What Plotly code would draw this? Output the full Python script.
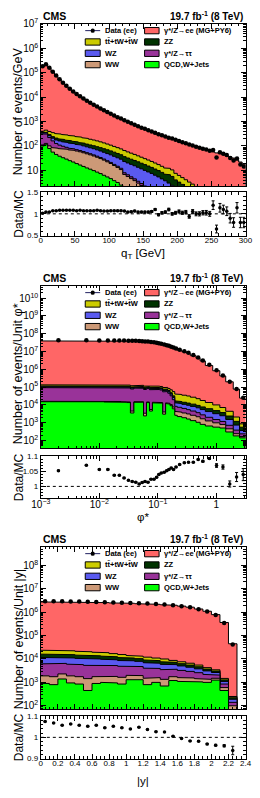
import plotly.graph_objects as go

W, H = 260, 798
FONT = "Liberation Sans"

# ---------------- panel 1 : q_T ----------------
qt_edges = list(range(0, 305, 5))
qt_data = [182000, 219000, 158000, 110000, 75900, 53700, 38900, 28800, 21900, 17000,
           13500, 10700, 8710, 7080, 5890, 4900, 4070, 3390, 2880, 2450,
           2090, 1780, 1510, 1320, 1120, 977, 851, 741, 646, 562,
           501, 437, 389, 347, 302, 275, 245, 219, 200, 178,
           158, 141, 129, 115, 105, 93.3, 85.1, 75.9, 70.8, 63.1,
           68.4, 33.8, 54.7, 48.4, 42.4, 32.4, 25.6, 30.8, 17.6, 14.4]
qt_ratio = [1.015, 1.04, 1.04, 1.07, 1.07, 1.08, 1.08, 1.08, 1.08, 1.08,
            1.07, 1.08, 1.07, 1.07, 1.07, 1.07, 1.08, 1.07, 1.065, 1.065,
            1.07, 1.07, 1.07, 1.07, 1.065, 1.04, 1.05, 1.065, 1.04, 1.04,
            1.04, 1.04, 1.055, 1.10, 0.98, 1.025, 1.04, 1.10, 1.00, 1.025,
            1.055, 1.025, 1.04, 0.94, 1.055, 1.00, 1.00, 1.025, 1.025, 1.00,
            1.20, 0.65, 1.14, 1.10, 1.06, 0.90, 0.80, 1.14, 0.80, 0.80]
qt_ratio_err = [0.004, 0.004, 0.004, 0.004, 0.004, 0.005, 0.005, 0.005, 0.005, 0.005,
                0.006, 0.006, 0.007, 0.007, 0.008, 0.008, 0.009, 0.009, 0.01, 0.01,
                0.011, 0.012, 0.012, 0.013, 0.014, 0.015, 0.016, 0.017, 0.018, 0.019,
                0.02, 0.021, 0.022, 0.024, 0.025, 0.027, 0.028, 0.03, 0.031, 0.033,
                0.035, 0.037, 0.039, 0.041, 0.043, 0.045, 0.048, 0.05, 0.053, 0.056,
                0.1, 0.09, 0.1, 0.1, 0.1, 0.11, 0.11, 0.12, 0.12, 0.12]
qt_qcd = [100, 112, 79, 56, 45, 38, 33, 29, 25, 22,
          19, 16.6, 14.5, 12.6, 11.2, 9.8, 8.5, 7.4, 6.3, 5.4,
          4.6, 3.8, 3.2, 2.5, 0, 0, 0, 0, 0, 0,
          0, 0, 0, 0, 0, 0, 0, 0, 0, 0,
          0, 0, 0, 0, 0, 0, 0, 0, 0, 0,
          0, 0, 0, 0, 0, 0, 0, 0, 0, 0]
qt_ww = [10, 15, 22, 30, 36, 40, 43, 44, 44, 44,
         43, 41, 38, 35, 32, 29, 26, 23, 20, 17,
         14.5, 12, 10, 8.3, 6.8, 5.6, 4.6, 3.8, 3.0, 2.4,
         1.9, 1.5, 1.2, 0.9, 0.7, 0.5, 0.4, 0.3, 0.25, 0.2,
         0.15, 0.12, 0.1, 0.08, 0.06, 0.05, 0.04, 0.03, 0.02, 0.02,
         0.01, 0.01, 0.01, 0.01, 0.01, 0.01, 0.01, 0.01, 0.01, 0.01]
qt_tautau = [200, 180, 120, 75, 45, 30, 21, 15, 12, 10,
             8.5, 7.3, 6.3, 5.5, 4.8, 4.2, 3.7, 3.2, 2.8, 2.4,
             2.1, 1.8, 1.6, 1.4, 1.2, 1.0, 0.85, 0.7, 0.6, 0.5,
             0.4, 0.35, 0.3, 0.25, 0.2, 0.18, 0.15, 0.12, 0.1, 0.08,
             0.06, 0.05, 0.04, 0.04, 0.03, 0.03, 0.02, 0.02, 0.02, 0.02,
             0.01, 0.01, 0.01, 0.01, 0.01, 0.01, 0.01, 0.01, 0.01, 0.01]
qt_wz = [25, 35, 42, 47, 50, 52, 52, 51, 50, 48,
         46, 44, 42, 39, 36, 34, 31, 28.5, 26, 24,
         22, 20, 18, 16.5, 15, 13.5, 12.2, 11, 9.8, 8.7,
         7.7, 6.8, 6.0, 5.2, 4.5, 3.8, 3.2, 2.6, 2.1, 1.7,
         1.4, 1.1, 0.9, 0.7, 0.6, 0.5, 0.4, 0.35, 0.3, 0.25,
         0.2, 0.18, 0.15, 0.12, 0.1, 0.08, 0.07, 0.06, 0.05, 0.04]
qt_zz = [15, 22, 28, 32, 34, 35, 35, 34, 33, 32,
         30, 29, 28, 27, 26, 25, 24, 23, 22, 21,
         19.5, 18, 16.5, 15, 13.5, 12, 11, 10, 9, 8,
         7.2, 6.4, 5.7, 5.0, 4.4, 3.8, 3.3, 3.6, 3.2, 2.1,
         1.7, 1.4, 1.1, 0.9, 0.75, 0.6, 0.5, 0.4, 0.35, 0.3,
         0.25, 0.2, 0.18, 0.15, 0.12, 0.1, 0.08, 0.07, 0.06, 0.05]
qt_ttbar = [50, 80, 100, 110, 112, 112, 110, 107, 104, 100,
            96, 92, 88, 83, 78, 73, 68, 62, 56, 50,
            45, 40, 36, 32, 28.5, 25, 22, 19.5, 17, 15,
            13, 11.5, 10, 8.7, 7.5, 6.4, 5.5, 5.5, 4.8, 3.5,
            2.9, 2.4, 2.0, 1.6, 1.3, 1.0, 0.8, 0.6, 0.5, 0.4,
            0.35, 0.3, 0.25, 0.2, 0.18, 0.15, 0.12, 0.1, 0.08, 0.07]

# ---------------- panel 2 : phi* ----------------
phi_edges = [0, 0.004, 0.008, 0.012, 0.016, 0.020, 0.024, 0.029, 0.034, 0.039,
             0.045, 0.051, 0.057, 0.064, 0.072, 0.081, 0.091, 0.100, 0.108, 0.121,
             0.136, 0.148, 0.162, 0.177, 0.195, 0.215, 0.258, 0.31, 0.36, 0.45,
             0.53, 0.65, 0.87, 1.15, 1.45, 1.95, 2.5, 3.277]
phi_data = [4.27e7, 4.25e7, 4.22e7, 4.2e7, 4.17e7, 4.15e7, 4.12e7, 4.09e7, 4.05e7, 4.0e7,
            3.89e7, 3.8e7, 3.72e7, 3.63e7, 3.47e7, 3.31e7, 3.16e7, 2.95e7, 2.75e7, 2.51e7,
            2.29e7, 2.09e7, 1.86e7, 1.66e7, 1.48e7, 1.26e7, 1.05e7, 8.5e6, 6.3e6, 4.57e6,
            3.16e6, 1.78e6, 8.9e5, 4.47e5, 2.0e5, 7.9e4, 2.5e4]
phi_ratio = [1.052, 1.07, 1.056, 1.056, 1.037, 1.037, 1.028, 1.02, 1.016, 1.014,
             1.008, 1.013, 1.016, 1.014, 1.024, 1.024, 1.03, 1.039, 1.044, 1.047,
             1.052, 1.056, 1.061, 1.056, 1.064, 1.072, 1.078, 1.08, 1.08, 1.089,
             1.083, 1.092, 1.069, 1.064, 1.008, 1.031, 1.039]
phi_ratio_err = [0.002, 0.002, 0.002, 0.002, 0.002, 0.002, 0.002, 0.002, 0.002, 0.002,
                 0.002, 0.002, 0.002, 0.002, 0.002, 0.002, 0.002, 0.002, 0.002, 0.002,
                 0.002, 0.002, 0.002, 0.002, 0.002, 0.002, 0.002, 0.002, 0.002, 0.002,
                 0.003, 0.003, 0.006, 0.007, 0.01, 0.015, 0.02]
phi_qcd = [1.5e4, 1.6e4, 1.5e4, 1.45e4, 1.5e4, 1.45e4, 1.4e4, 1.35e4, 3.5e3, 1.4e4,
           1.35e4, 1.4e4, 2.4e3, 1.35e4, 4.5e3, 1.3e4, 1.35e4, 1.3e4, 1.25e4, 3.0e3,
           1.2e4, 1.1e4, 9.0e3, 6.0e3, 2600, 2200, 1900, 1600, 1300, 1050,
           800, 650, 560, 500, 300, 180, 140]
phi_ww = [1000, 1000, 1000, 1000, 1000, 1000, 1000, 1000, 1000, 1000,
          1000, 1000, 1000, 1000, 1000, 1000, 1000, 1000, 1000, 1000,
          1000, 1200, 1400, 1600, 1700, 1700, 1600, 1500, 1300, 1100,
          850, 600, 420, 280, 150, 60, 25]
phi_tautau = [8.0e4, 8.0e4, 7.9e4, 7.8e4, 7.8e4, 7.7e4, 7.6e4, 7.5e4, 7.4e4, 7.3e4,
              7.2e4, 7.1e4, 7.0e4, 6.8e4, 6.6e4, 6.4e4, 6.2e4, 5.9e4, 5.5e4, 5.0e4,
              4.3e4, 3.3e4, 2.2e4, 1.2e4, 4000, 3400, 2800, 2300, 1900, 1500,
              1100, 750, 520, 390, 260, 140, 70]
phi_wz = [1.0e4, 1.0e4, 1.0e4, 1.0e4, 1.0e4, 1.0e4, 1.0e4, 1.0e4, 1.0e4, 1.0e4,
          1.0e4, 1.0e4, 1.0e4, 1.0e4, 1.0e4, 1.0e4, 1.0e4, 1.0e4, 1.0e4, 1.0e4,
          1.0e4, 9000, 8000, 6500, 4800, 4600, 4400, 4100, 3700, 3200,
          2700, 2200, 1700, 1280, 800, 350, 130]
phi_zz = [1.2e4, 1.2e4, 1.2e4, 1.2e4, 1.2e4, 1.2e4, 1.2e4, 1.2e4, 1.2e4, 1.2e4,
          1.2e4, 1.2e4, 1.2e4, 1.2e4, 1.2e4, 1.2e4, 1.2e4, 1.2e4, 1.2e4, 1.2e4,
          1.2e4, 1.0e4, 8000, 6000, 3600, 3500, 3300, 3100, 2800, 2500,
          2200, 1900, 1550, 1250, 850, 450, 190]
phi_ttbar = [1.8e4, 1.8e4, 1.8e4, 1.8e4, 1.8e4, 1.8e4, 1.8e4, 1.8e4, 1.8e4, 1.8e4,
             1.8e4, 1.8e4, 1.8e4, 1.8e4, 1.8e4, 1.8e4, 1.8e4, 1.8e4, 1.8e4, 1.8e4,
             1.8e4, 2.0e4, 2.2e4, 2.4e4, 2.4e4, 2.3e4, 2.1e4, 1.9e4, 1.6e4, 1.3e4,
             1.0e4, 7500, 5200, 3400, 2000, 900, 300]

# ---------------- panel 3 : |y| ----------------
rap_edges = [0, 0.1, 0.2, 0.3, 0.4, 0.5, 0.6, 0.7, 0.8, 0.9, 1.0, 1.1, 1.2,
             1.3, 1.4, 1.5, 1.6, 1.7, 1.8, 1.9, 2.0, 2.1, 2.2, 2.3, 2.4]
rap_data = [2.95e6, 2.95e6, 2.92e6, 2.88e6, 2.85e6, 2.82e6, 2.75e6, 2.69e6, 2.63e6, 2.57e6,
            2.51e6, 2.43e6, 2.34e6, 2.24e6, 2.14e6, 2.0e6, 1.82e6, 1.62e6, 1.35e6, 1.07e6,
            7.6e5, 3.5e5, 4.2e4]
rap_ratio = [1.075, 1.068, 1.057, 1.063, 1.057, 1.052, 1.057, 1.045, 1.052, 1.045,
             1.04, 1.048, 1.037, 1.027, 1.025, 1.005, 0.995, 0.983, 0.982, 0.968,
             0.963, 0.96, 0.938]
rap_ratio_err = [0.002, 0.002, 0.002, 0.002, 0.002, 0.002, 0.002, 0.002, 0.002, 0.002,
                 0.002, 0.002, 0.002, 0.002, 0.002, 0.002, 0.002, 0.002, 0.003, 0.003,
                 0.004, 0.005, 0.02]
rap_qcd = [900, 800, 1400, 950, 850, 450, 900, 1000, 950, 850, 1300, 1300,
           800, 1000, 700, 1200, 1100, 1100, 1050, 1000, 1250, 450, 60, 0]
rap_ww = [1000, 950, 900, 950, 900, 1000, 850, 800, 850, 800, 700, 650,
          700, 600, 650, 550, 500, 450, 400, 350, 250, 150, 40, 0]
rap_tautau = [4300, 4300, 4200, 4100, 4000, 3900, 3800, 3650, 3450, 3250, 3000, 2800,
              2550, 2350, 2150, 1900, 1650, 1400, 1150, 850, 550, 250, 40, 0]
rap_wz = [5400, 5300, 5200, 5100, 4900, 4700, 4500, 4300, 4000, 3700, 3400, 3200,
          2900, 2650, 2400, 2100, 1800, 1500, 1200, 900, 600, 250, 50, 0]
rap_zz = [4500, 4400, 4300, 4200, 4000, 3800, 3650, 3500, 3200, 2900, 2600, 2400,
          2150, 1900, 1700, 1450, 1250, 1050, 850, 600, 400, 180, 30, 0]
rap_ttbar = [7600, 7650, 6900, 7100, 6750, 6550, 5800, 5350, 4550, 4000, 3100, 2850,
             2900, 2500, 2400, 1500, 1300, 1100, 850, 570, 400, 200, 30, 0]

# ---------------- legend ----------------
legend_labels = ["Data (ee)", "γ*/Z→ee (MG+PY6)", "tt\u0304+tW+t\u0304W", "ZZ",
                 "WZ", "γ*/Z→ττ", "WW", "QCD,W+Jets"]
legend_keys = ["data", "ee", "ttbar", "zz", "wz", "tautau", "ww", "qcd"]

STACK_ORDER = ["qcd", "ww", "tautau", "wz", "zz", "ttbar", "ee"]
COLORS = {"qcd": "#00ff00", "ww": "#cc9977", "tautau": "#993399", "wz": "#5a5af0",
          "zz": "#003300", "ttbar": "#cccc00", "ee": "#ff6666"}


def vx(x):
    return x / W


def vy(y):
    return 1 - y / H


def step_poly(edges, vals, floor):
    xs, ys = [], []
    for i, v in enumerate(vals):
        v = max(v, floor)
        xs += [edges[i], edges[i + 1]]
        ys += [v, v]
    xs += [edges[-1], edges[0]]
    ys += [floor, floor]
    return xs, ys


panels = [
    dict(edges=qt_edges, bkg=[qt_qcd, qt_ww, qt_tautau, qt_wz, qt_zz, qt_ttbar],
         data=qt_data, ratio=qt_ratio, err=qt_ratio_err, yrange=[0.35, 7.002],
         rrange=[0.5, 1.5], rticks=[0.5, 1, 1.5], rminor=0.1, xlog=False,
         xrange=[0, 300], xdtick=50, xminor=10, top=17, bot=182, rtop=188, rbot=232,
         ytitle="Number of events/GeV", ytitle_y=106, xtitle="q<sub>T</sub> [GeV]",
         xtitle_y=251),
    dict(edges=phi_edges, bkg=[phi_qcd, phi_ww, phi_tautau, phi_wz, phi_zz, phi_ttbar],
         data=phi_data, ratio=phi_ratio, err=phi_ratio_err, yrange=[1.56, 10.7],
         rrange=[0.96, 1.1], rticks=[1, 1.05, 1.1], rminor=0.01, xlog=True,
         xrange=[-3, 0.5], xdtick=1, xminor="D1", top=283, bot=448, rtop=456, rbot=499,
         ytitle="Number of events/Unit φ*", ytitle_y=372, xtitle="φ*", xtitle_y=518),
    dict(edges=rap_edges, bkg=[rap_qcd, rap_ww, rap_tautau, rap_wz, rap_zz, rap_ttbar],
         data=rap_data, ratio=rap_ratio, err=rap_ratio_err, yrange=[1.85, 8.8],
         rrange=[0.9, 1.1], rticks=[0.9, 1, 1.1], rminor=0.02, xlog=False,
         xrange=[0, 2.4], xdtick=0.2, xminor=0.05, top=548, bot=713, rtop=720, rbot=763,
         ytitle="Number of events/Unit |y|", ytitle_y=641, xtitle="|y|", xtitle_y=786),
]

fig = go.Figure()
layout = {}
annotations = []
shapes = []

tickfont = dict(family=FONT, size=8, color="black")
common = dict(showline=True, linecolor="black", linewidth=1, mirror="ticks",
              ticks="inside", tickcolor="black", tickwidth=1, showgrid=False,
              zeroline=False, tickfont=tickfont)

X0, X1 = 33, 252

for p, P in enumerate(panels):
    m, r = 2 * p + 1, 2 * p + 2
    xm = "x" if m == 1 else f"x{m}"
    ym = "y" if m == 1 else f"y{m}"
    xr, yr = f"x{r}", f"y{r}"
    edges = P["edges"]
    nb = len(edges) - 1
    centers = [(edges[i] + edges[i + 1]) / 2 for i in range(nb)]
    data, ratio = P["data"], P["ratio"]
    nd = len(data)
    bsum = [sum(b[i] for b in P["bkg"]) for i in range(nb)]
    ee = [max(data[i] / ratio[i] - bsum[i], 0) if i < nd else 0 for i in range(nb)]
    comps = P["bkg"] + [ee]
    cum = []
    run = [0] * nb
    for c in comps:
        run = [run[i] + c[i] for i in range(nb)]
        cum.append(run)
    e = list(edges)
    if P["xlog"] and e[0] <= 0:
        e[0] = e[1] / 40
    floor = 10 ** (P["yrange"][0] - 1)
    for k in range(len(comps) - 1, -1, -1):
        xs, ys = step_poly(e, cum[k], floor)
        fig.add_trace(go.Scatter(x=xs, y=ys, xaxis=xm, yaxis=ym, mode="lines",
                                 fill="toself", fillcolor=COLORS[STACK_ORDER[k]],
                                 line=dict(color="black", width=1), hoverinfo="skip",
                                 showlegend=False))
    fig.add_trace(go.Scatter(x=centers[:nd], y=data, xaxis=xm, yaxis=ym, mode="markers",
                             marker=dict(color="black", size=4.5), showlegend=False))
    fig.add_trace(go.Scatter(x=centers[:nd], y=ratio, xaxis=xr, yaxis=yr, mode="markers",
                             marker=dict(color="black", size=3.5), showlegend=False,
                             error_y=dict(type="data", array=P["err"], color="black",
                                          thickness=1, width=1.5)))

    xtype = "log" if P["xlog"] else "linear"
    xminor = dict(ticks="inside", ticklen=2.5, tickcolor="black", tickwidth=1,
                  showgrid=False, dtick=P["xminor"])
    xkey_m = "xaxis" if m == 1 else f"xaxis{m}"
    ykey_m = "yaxis" if m == 1 else f"yaxis{m}"
    layout[xkey_m] = dict(common, domain=[vx(X0), vx(X1)], anchor=ym, matches=xr,
                          type=xtype, range=P["xrange"], dtick=P["xdtick"],
                          showticklabels=False, ticklen=5, minor=xminor,
                          exponentformat="power")
    layout[f"xaxis{r}"] = dict(common, domain=[vx(X0), vx(X1)], anchor=yr, type=xtype,
                               range=P["xrange"], dtick=P["xdtick"], ticklen=5,
                               minor=xminor, exponentformat="power",
                               ticklabelstandoff=-3)
    layout[ykey_m] = dict(common, domain=[vy(P["bot"]), vy(P["top"])], anchor=xm,
                          type="log", range=P["yrange"], dtick=1, ticklen=5,
                          exponentformat="power",
                          minor=dict(ticks="inside", ticklen=2.5, tickcolor="black",
                                     tickwidth=1, showgrid=False, dtick="D1"))
    layout[f"yaxis{r}"] = dict(common, domain=[vy(P["rbot"]), vy(P["rtop"])], anchor=xr,
                               range=P["rrange"], tickmode="array", tickvals=P["rticks"],
                               ticklen=5,
                               minor=dict(ticks="inside", ticklen=2.5, tickcolor="black",
                                          tickwidth=1, showgrid=False, dtick=P["rminor"],
                                          tick0=0))

    shapes.append(dict(type="line", xref=f"{xr} domain", x0=0, x1=1, yref=yr, y0=1, y1=1,
                       line=dict(color="black", width=1, dash="dot")))

    T = P["top"]
    annotations.append(dict(text="<b>CMS</b>", x=vx(X0), y=vy(T - 7.5), xref="paper",
                            yref="paper", xanchor="left", yanchor="middle", showarrow=False,
                            font=dict(family=FONT, size=10.5, color="black")))
    annotations.append(dict(text="<b>19.7 fb<sup>-1</sup> (8 TeV)</b>", x=vx(X1 - 1),
                            y=vy(T - 7.5), xref="paper", yref="paper", xanchor="right",
                            yanchor="middle", showarrow=False,
                            font=dict(family=FONT, size=10, color="black")))
    annotations.append(dict(text=P["ytitle"], x=vx(9.5), y=vy(P["ytitle_y"]), xref="paper",
                            yref="paper", textangle=-90, showarrow=False,
                            xanchor="center", yanchor="middle",
                            font=dict(family=FONT, size=12.5, color="black")))
    annotations.append(dict(text="Data/MC", x=vx(9.5), y=vy((P["rtop"] + P["rbot"]) / 2),
                            xref="paper", yref="paper", textangle=-90, showarrow=False,
                            xanchor="center", yanchor="middle",
                            font=dict(family=FONT, size=12, color="black")))
    annotations.append(dict(text=P["xtitle"], x=vx((X0 + X1) / 2), y=vy(P["xtitle_y"]),
                            xref="paper", yref="paper", showarrow=False,
                            xanchor="center", yanchor="middle",
                            font=dict(family=FONT, size=11.5, color="black")))

    # legend (two columns, four rows)
    rows = [T + 7, T + 18.5, T + 30, T + 41.5]
    for j, (lab, key) in enumerate(zip(legend_labels, legend_keys)):
        row, col = j // 2, j % 2
        yc = rows[row]
        bx0, bx1, tx = (80.5, 96.5, 99.5) if col == 0 else (144, 159.5, 162.5)
        if key == "data":
            shapes.append(dict(type="line", xref="paper", yref="paper", x0=vx(bx0),
                               x1=vx(bx1), y0=vy(yc), y1=vy(yc),
                               line=dict(color="#202060", width=1)))
            shapes.append(dict(type="circle", xref="paper", yref="paper",
                               x0=vx((bx0 + bx1) / 2 - 2.2), x1=vx((bx0 + bx1) / 2 + 2.2),
                               y0=vy(yc + 2.2), y1=vy(yc - 2.2), fillcolor="black",
                               line=dict(color="black", width=0)))
        else:
            shapes.append(dict(type="rect", xref="paper", yref="paper", x0=vx(bx0),
                               x1=vx(bx1), y0=vy(yc + 3.2), y1=vy(yc - 3.2),
                               fillcolor=COLORS[key], line=dict(color="black", width=1)))
        annotations.append(dict(text=f"<b>{lab}</b>", x=vx(tx), y=vy(yc), xref="paper",
                                yref="paper", xanchor="left", yanchor="middle",
                                showarrow=False,
                                font=dict(family=FONT, size=7.5, color="black")))

fig.update_layout(**layout)
fig.update_layout(width=W, height=H, autosize=False, margin=dict(l=0, r=0, t=0, b=0),
                  paper_bgcolor="white", plot_bgcolor="white", showlegend=False,
                  annotations=annotations, shapes=shapes,
                  font=dict(family=FONT, color="black"))
fig.write_html("out.html")
